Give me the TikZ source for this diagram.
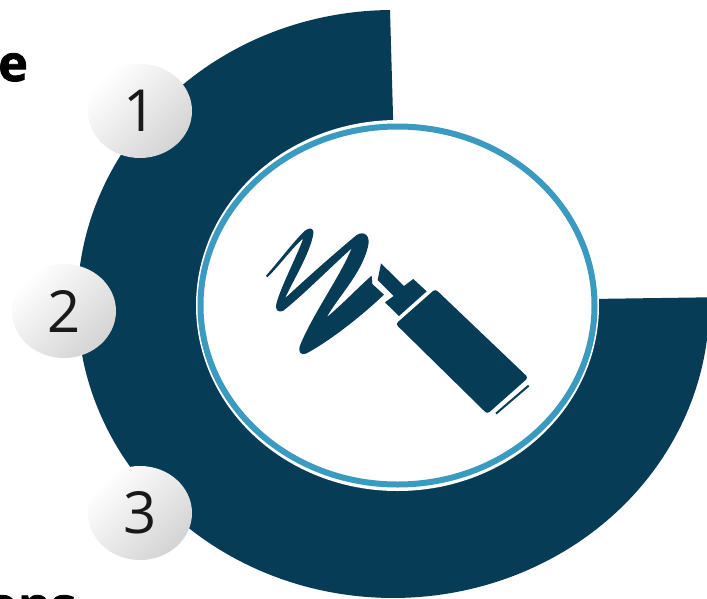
\documentclass[tikz,border=0pt]{standalone}
\usepackage{fontspec}
\setmainfont{Open Sans}
\newfontfamily\heavyfont[BoldFeatures={FakeBold=1.6}]{Open Sans}
\definecolor{navy}{HTML}{063C55}
\definecolor{ringblue}{HTML}{3A9ABF}
\usetikzlibrary{shapes.geometric}
\tikzset{
  numdisc/.style={ellipse,minimum width=104pt,minimum height=94pt,inner sep=0pt,
    top color=white,bottom color=black!17,shading angle=45,
    font=\fontsize{58}{60}\selectfont,text=black!90},
  clipped/.style={inner sep=0pt,font=\fontsize{50}{52}\selectfont\heavyfont\bfseries,text=black},
  iconfill/.style={fill=navy,draw=none}
}
\begin{document}
\begin{tikzpicture}[x=1pt,y=-1pt]
\useasboundingbox (0,0) rectangle (707,598);
\clip (0,0) rectangle (707,598);
\fill[white] (0,0) rectangle (707,598);
% ring segment
\fill[navy] (390,10) arc[start angle=269.4,end angle=-1.3,x radius=316,y radius=294]
  -- (590,299) -- (400,299) -- (394,150) -- cycle;
% inner disc
\fill[white] (397.5,305.5) ellipse[x radius=201.5,y radius=185.5];
\draw[ringblue,line width=6pt] (397.5,305.5) ellipse[x radius=197,y radius=179];
% icon
\begin{scope}[shift={(250,210)},x=0.3333pt,y=-0.3333pt]
\fill[iconfill,rounded corners=3pt] (556,237) -- (835,503) -- (712,612) -- (437,342) -- cycle;
\draw[navy,line width=2pt] (738,611) -- (836,527);
\fill[iconfill] (393,160) -- (462,228) -- (490,207) -- (530,244) -- (447,318) -- (405,277) -- (431,258) -- (383,210) -- cycle;
\fill[iconfill] (48,197) .. controls (90,150) and (130,95) .. (165,62)
  .. controls (178,52) and (192,52) .. (190,72)
  .. controls (180,130) and (130,210) .. (105,265)
  .. controls (180,195) and (260,125) .. (320,75)
  .. controls (345,60) and (362,80) .. (354,110)
  .. controls (335,190) and (265,260) .. (230,322)
  .. controls (280,280) and (325,232) .. (365,197)
  -- (367,222) -- (402,254)
  .. controls (330,322) and (240,392) .. (170,430)
  .. controls (150,438) and (142,425) .. (152,402)
  .. controls (190,310) and (270,200) .. (305,115)
  .. controls (235,178) and (165,250) .. (100,302)
  .. controls (82,310) and (74,298) .. (80,278)
  .. controls (95,225) and (140,140) .. (160,85)
  .. controls (125,115) and (90,165) .. (52,202) -- cycle;
\end{scope}
% number discs
\node[numdisc] (n1) at (140,111) {1};
\node[numdisc] (n2) at (64,311) {2};
\node[numdisc] (n3) at (140,513) {3};
% clipped text
\node[clipped,anchor=base east] (t1) at (28,81) {e};
\node[clipped,anchor=base east] (t2) at (76,623) {ons};
\end{tikzpicture}
\end{document}
